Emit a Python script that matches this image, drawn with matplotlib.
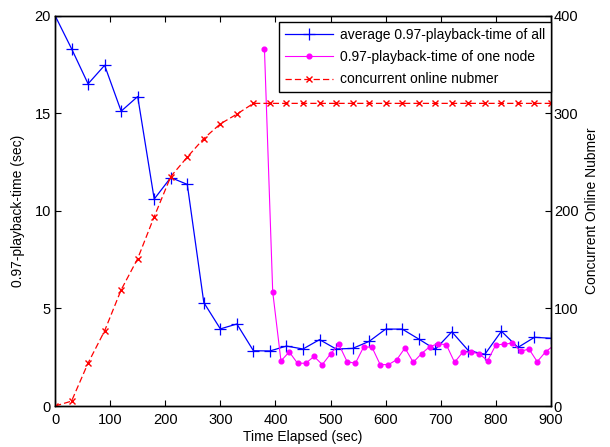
import numpy as np
import matplotlib.pyplot as plt

plt.rcParams['font.family'] = ['Liberation Sans', 'DejaVu Sans']
plt.rcParams['font.size'] = 10

# average 0.97-playback-time of all nodes, every 30 s
t_all = np.arange(0, 901, 30)
avg_all = [20.0, 18.3, 16.5, 17.45, 15.1, 15.85, 10.6, 11.7, 11.35, 5.3,
           3.95, 4.2, 2.83, 2.82, 3.07, 2.92, 3.4, 2.92, 2.95, 3.31,
           3.94, 3.94, 3.43, 2.9, 3.8, 2.84, 2.65, 3.83, 3.0, 3.52, 3.47]

# one node, every 15 s after it joins
t_node = np.arange(380, 906, 15)
one_node = [18.3, 5.85, 2.31, 2.77, 2.19, 2.19, 2.54, 2.12, 2.67, 3.16,
            2.27, 2.19, 3.02, 3.02, 2.12, 2.12, 2.37, 2.97, 2.24, 2.68,
            3.04, 3.19, 3.14, 2.24, 2.76, 2.77, 2.67, 2.32, 3.14, 3.16,
            3.23, 2.8, 2.92, 2.27, 2.77, 3.1]

# concurrent online number (right axis)
online = [0, 5, 44, 77, 119, 151, 194, 235, 255, 274, 289, 299,
          310, 310, 310, 310, 310, 310, 310, 310, 310, 310,
          310, 310, 310, 310, 310, 310, 310, 310, 310]

fig = plt.figure(figsize=(6.1, 4.47), dpi=100)
ax = fig.add_axes([0.0902, 0.0917, 0.8131, 0.8736])
ax2 = ax.twinx()

l1, = ax.plot(t_all, avg_all, color='blue', marker='+', markersize=9, lw=0.9,
              markeredgewidth=0.9, label='average 0.97-playback-time of all')
l2, = ax.plot(t_node, one_node, color='magenta', marker='o', markersize=3.4, lw=0.8,
              label='0.97-playback-time of one node')
l3, = ax2.plot(t_all, online, color='red', ls='--', dashes=(5, 2.5), marker='x',
               markersize=5, lw=0.9, label='concurrent online nubmer')

ax.set_xlim(0, 900)
ax.set_ylim(0, 20)
ax2.set_ylim(0, 400)
ax.set_xticks(np.arange(0, 901, 100))
ax.set_yticks([0, 5, 10, 15, 20])
ax2.set_yticks([0, 100, 200, 300, 400])

ax.tick_params(axis='x', direction='in', top=True, length=4, labelsize=10.5, pad=5)
ax.tick_params(axis='y', direction='in', right=False, length=4, labelsize=10.5, pad=3)
ax2.tick_params(direction='in', length=4, labelsize=10.5, pad=2)
for a in (ax, ax2):
    for s in a.spines.values():
        s.set_linewidth(1.0)

ax.set_xlabel('Time Elapsed (sec)', labelpad=2)
ax.set_ylabel('0.97-playback-time (sec)', labelpad=7)
ax2.set_ylabel('Concurrent Online Nubmer', labelpad=5)

leg = ax2.legend(handles=[l1, l2, l3], loc='upper right', bbox_to_anchor=(1.0, 0.983),
                 fancybox=False, edgecolor='black', framealpha=1, handlelength=3.5,
                 handletextpad=0.5, labelspacing=0.6, borderaxespad=0, fontsize=10)
leg.get_frame().set_linewidth(1.0)

fig.savefig('out.png', dpi=100)
